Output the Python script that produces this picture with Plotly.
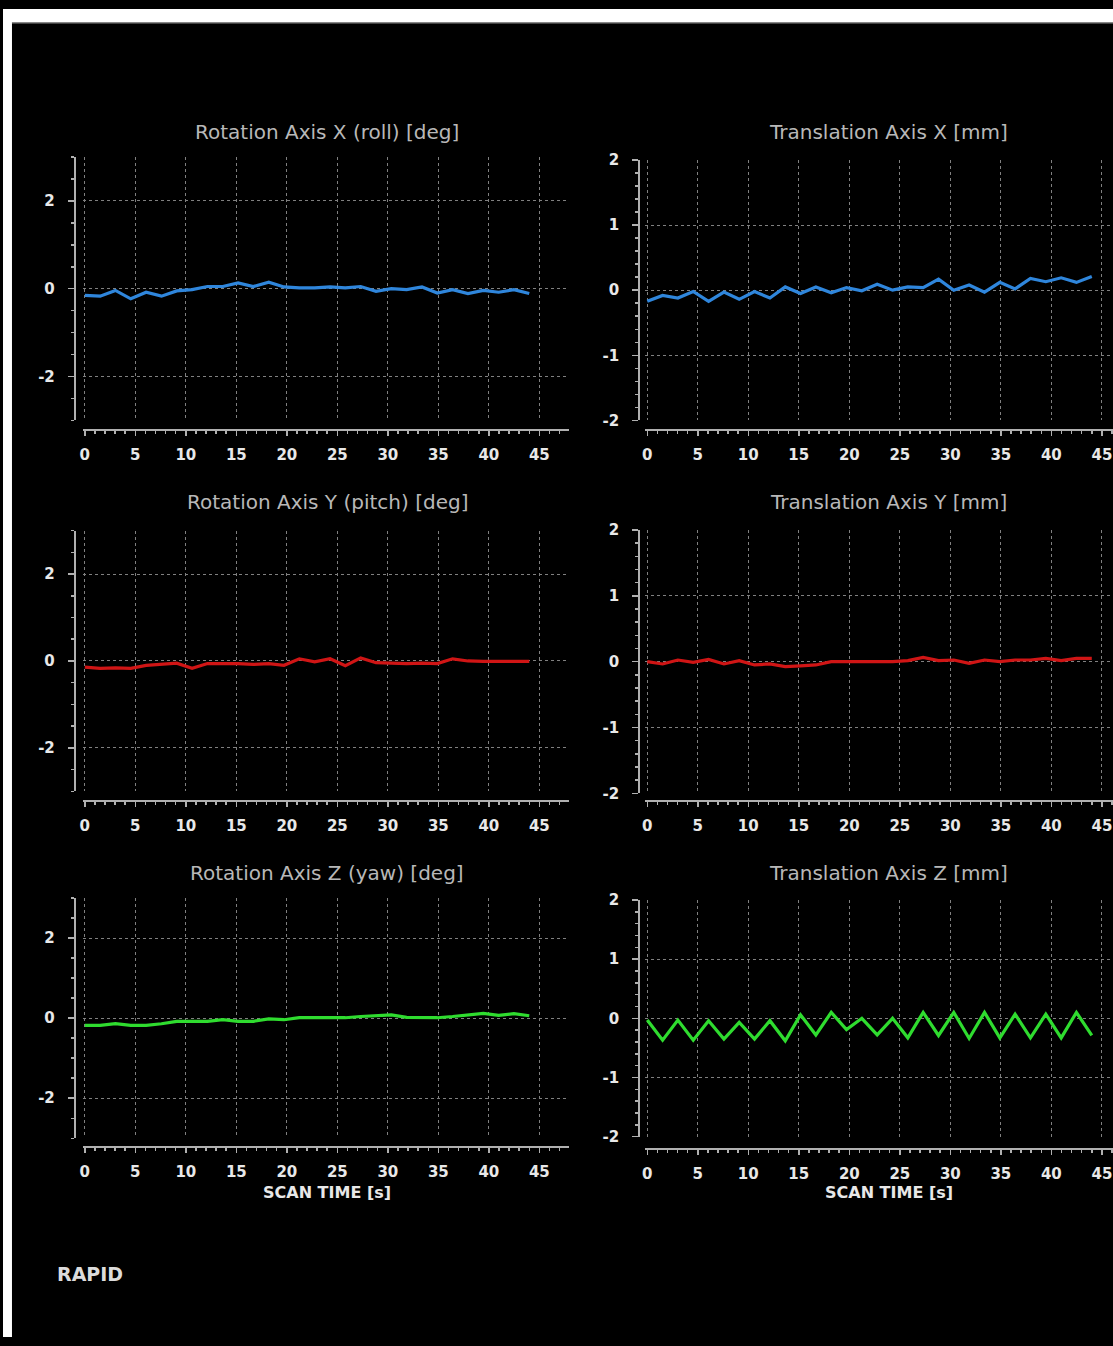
import plotly.graph_objects as go

W, H = 1113, 1346

# ---- data ----
scan_time = [0.0, 1.52, 3.03, 4.55, 6.07, 7.59, 9.10, 10.62, 12.14, 13.66,
             15.17, 16.69, 18.21, 19.72, 21.24, 22.76, 24.28, 25.79, 27.31, 28.83,
             30.34, 31.86, 33.38, 34.90, 36.41, 37.93, 39.45, 40.97, 42.48, 44.0]

rot_x = [-0.15, -0.17, -0.04, -0.23, -0.08, -0.17, -0.05, -0.02, 0.05, 0.05,
         0.13, 0.05, 0.15, 0.04, 0.02, 0.02, 0.04, 0.02, 0.05, -0.06,
         0.00, -0.02, 0.04, -0.10, -0.02, -0.11, -0.04, -0.08, -0.02, -0.11]

rot_y = [-0.14, -0.17, -0.16, -0.17, -0.10, -0.08, -0.05, -0.17, -0.06, -0.06,
         -0.06, -0.08, -0.06, -0.10, 0.05, -0.02, 0.05, -0.11, 0.07, -0.04,
         -0.05, -0.06, -0.05, -0.06, 0.05, 0.00, -0.01, -0.01, -0.01, -0.01]

rot_z = [-0.18, -0.18, -0.14, -0.18, -0.18, -0.14, -0.08, -0.08, -0.08, -0.04,
         -0.08, -0.08, -0.02, -0.04, 0.01, 0.01, 0.01, 0.01, 0.04, 0.07,
         0.08, 0.02, 0.02, 0.01, 0.04, 0.09, 0.12, 0.07, 0.11, 0.06]

trans_x = [-0.17, -0.08, -0.12, -0.02, -0.17, -0.03, -0.14, -0.02, -0.12, 0.05,
           -0.05, 0.05, -0.04, 0.04, -0.01, 0.09, 0.00, 0.05, 0.04, 0.17,
           0.00, 0.08, -0.03, 0.12, 0.02, 0.18, 0.13, 0.19, 0.12, 0.21]

trans_y = [0.00, -0.035, 0.025, -0.01, 0.035, -0.035, 0.015, -0.05, -0.035, -0.075,
           -0.065, -0.05, 0.00, 0.00, 0.00, 0.00, 0.00, 0.015, 0.065, 0.015,
           0.025, -0.025, 0.025, 0.00, 0.025, 0.025, 0.05, 0.015, 0.05, 0.05]

trans_z = [-0.03, -0.37, -0.03, -0.37, -0.04, -0.35, -0.07, -0.35, -0.04, -0.38,
           0.06, -0.28, 0.10, -0.19, 0.00, -0.28, 0.00, -0.33, 0.10, -0.29,
           0.10, -0.34, 0.10, -0.33, 0.07, -0.33, 0.07, -0.33, 0.10, -0.29]

titles = ["Rotation Axis X (roll) [deg]", "Translation Axis X [mm]",
          "Rotation Axis Y (pitch) [deg]", "Translation Axis Y [mm]",
          "Rotation Axis Z (yaw) [deg]", "Translation Axis Z [mm]"]
x_ticks = [0, 5, 10, 15, 20, 25, 30, 35, 40, 45]
x_tick_text = ["0", "5", "10", "15", "20", "25", "30", "35", "40", "45"]
rot_ticks = [-2, 0, 2]
rot_tick_text = ["-2", "0", "2"]
trans_ticks = [-2, -1, 0, 1, 2]
trans_tick_text = ["-2", "-1", "0", "1", "2"]
x_label = "SCAN TIME [s]"
footer = "RAPID"

series = [rot_x, trans_x, rot_y, trans_y, rot_z, trans_z]
colors = ["#2f86dc", "#2f86dc", "#d01515", "#d01515", "#2fdc2f", "#2fdc2f"]

# ---- layout geometry (pixels) ----
def fx(p):
    return p / W

def fy(p):
    return 1 - p / H

cols = [
    dict(dom=(80, 568), rng=(-0.2, 47.98), ypos=72, title_x=325),
    dict(dom=(644, 1113), rng=(-0.197, 46.1), ypos=638, title_x=888),
]
rows = [
    dict(left=(150, 417), right=(153, 417), xline=(427, 427), title_y=125),
    dict(left=(528.6, 793), right=(528, 795), xline=(803, 803), title_y=500),
    dict(left=(901, 1144.6), right=(903, 1143), xline=(1153, 1155), title_y=876),
]

FONT = "DejaVu Sans"
grid_color = "#808080"
axis_color = "#b0b0b0"
tick_font = dict(family=FONT, size=15, color="#e8e8e8", weight="bold")

fig = go.Figure()
layout = dict(
    width=W, height=H,
    margin=dict(l=0, r=0, t=0, b=0),
    paper_bgcolor="black", plot_bgcolor="black",
    showlegend=False,
    annotations=[], shapes=[],
)

idx = 0
for r, row in enumerate(rows):
    for c, col in enumerate(cols):
        idx += 1
        xa = "xaxis" if idx == 1 else f"xaxis{idx}"
        ya = "yaxis" if idx == 1 else f"yaxis{idx}"
        xref = "x" if idx == 1 else f"x{idx}"
        yref = "y" if idx == 1 else f"y{idx}"
        ydom = row["left"] if c == 0 else row["right"]
        is_rot = (c == 0)
        fig.add_trace(go.Scatter(
            x=scan_time, y=series[idx - 1], mode="lines",
            line=dict(color=colors[idx - 1], width=3.2),
            xaxis=xref, yaxis=yref, hoverinfo="skip",
        ))
        layout[xa] = dict(
            domain=[fx(col["dom"][0]), fx(col["dom"][1])],
            range=list(col["rng"]),
            anchor="free", position=fy(row["xline"][c]),
            tickmode="array", tickvals=x_ticks, ticktext=x_tick_text,
            ticks="outside", ticklen=5, tickwidth=1.5, tickcolor=axis_color,
            minor=dict(dtick=1, tick0=0, ticks="outside", ticklen=3,
                       tickcolor=axis_color, showgrid=False),
            showline=True, linecolor=axis_color, linewidth=2,
            showgrid=True, gridcolor=grid_color, griddash="dot", gridwidth=1,
            zeroline=False, tickfont=tick_font, ticklabelstandoff=6,
            fixedrange=True,
        )
        layout[ya] = dict(
            domain=[fy(ydom[1]), fy(ydom[0])],
            range=[-3, 3] if is_rot else [-2, 2],
            anchor="free", position=fx(col["ypos"]),
            tickmode="array",
            tickvals=rot_ticks if is_rot else trans_ticks,
            ticktext=rot_tick_text if is_rot else trans_tick_text,
            ticks="outside", ticklen=6, tickwidth=1.5, tickcolor=axis_color,
            minor=dict(dtick=0.5 if is_rot else 0.2, tick0=0, ticks="outside",
                       ticklen=3, tickcolor=axis_color, showgrid=False),
            showline=True, linecolor=axis_color, linewidth=2,
            showgrid=True, gridcolor=grid_color, griddash="dot", gridwidth=1,
            zeroline=False, tickfont=tick_font, ticklabelstandoff=10,
            fixedrange=True,
        )
        layout["annotations"].append(dict(
            text=titles[idx - 1], x=fx(col["title_x"]), y=fy(row["title_y"]),
            xref="paper", yref="paper", xanchor="center", yanchor="middle",
            showarrow=False, font=dict(family=FONT, size=20, color="#b8b8b8"),
        ))
        if r == 2:
            layout["annotations"].append(dict(
                text="<b>" + x_label + "</b>", x=fx(col["title_x"]), y=fy(1200),
                xref="paper", yref="paper", xanchor="center", yanchor="middle",
                showarrow=False, font=dict(family=FONT, size=16, color="#e8e8e8"),
            ))

layout["annotations"].append(dict(
    text="<b>" + footer + "</b>", x=fx(52), y=fy(1282),
    xref="paper", yref="paper", xanchor="left", yanchor="middle",
    showarrow=False, font=dict(family=FONT, size=19, color="#dcdcdc"),
))

# white page border (top and left) as in the screenshot
layout["shapes"] += [
    dict(type="rect", xref="paper", yref="paper", x0=0, x1=1, y0=fy(13.5), y1=1,
         fillcolor="white", line=dict(width=0), layer="above"),
    dict(type="rect", xref="paper", yref="paper", x0=0, x1=fx(9), y0=0, y1=1,
         fillcolor="white", line=dict(width=0), layer="above"),
    dict(type="line", xref="paper", yref="paper", x0=fx(9), x1=1, y0=fy(14), y1=fy(14),
         line=dict(color="#888888", width=1.5), layer="above"),
]

fig.update_layout(**layout)
fig.write_html(
    "out.html",
    config={"displayModeBar": False, "staticPlot": True},
    post_script=(
        "document.documentElement.style.margin='0';"
        "document.documentElement.style.background='white';"
        "document.body.style.margin='0';"
        "document.body.style.background='white';"
        "document.body.style.overflow='hidden';"
    ),
)
